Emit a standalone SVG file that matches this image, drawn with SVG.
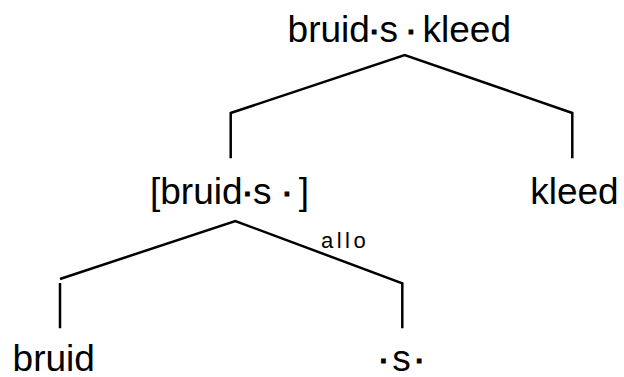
<svg xmlns="http://www.w3.org/2000/svg" width="624" height="377" viewBox="0 0 624 377">
<style>
.t{font-family:"Liberation Sans",Arial,sans-serif;font-size:37px;fill:#000}
.d{font-family:"Liberation Sans",Arial,sans-serif;font-size:37px;fill:#000;stroke:#000;stroke-width:1.2;text-anchor:middle}
.lbl{font-family:"Liberation Sans",Arial,sans-serif;font-size:22px;letter-spacing:3.5px;fill:#000}
.c{fill:none;stroke:#000;stroke-width:2.5;stroke-linecap:butt;stroke-linejoin:miter}
</style>
<rect width="624" height="377" fill="#fff"/>
<g id="connectors">
<path class="c" d="M230.7,158.3 V113 L404.7,55 L572.3,113 V158.3"/>
<path class="c" d="M60,328.3 V283 M60,279 L235.3,221 L402.3,283.3 V328.3"/>
</g>
<g id="n-bruidskleed">
<text class="t" y="42"><tspan x="287.6">bruid</tspan><tspan x="379.6">s</tspan><tspan x="422.5">kleed</tspan></text>
<text class="d" x="374.2" y="42">·</text>
<text class="d" x="410.9" y="42">·</text>
</g>
<g id="n-bruids">
<text class="t" y="204"><tspan x="150">[bruid</tspan><tspan x="253">s</tspan><tspan x="298.7">]</tspan></text>
<text class="d" x="247.5" y="204">·</text>
<text class="d" x="287" y="204">·</text>
</g>
<g id="n-kleed"><text class="t" x="530.2" y="203.5">kleed</text></g>
<g id="n-bruid"><text class="t" x="12.6" y="371">bruid</text></g>
<g id="n-s">
<text class="t" x="392.2" y="371">s</text>
<text class="d" x="383.3" y="371">·</text>
<text class="d" x="419.2" y="371">·</text>
</g>
<g id="l-allo"><text class="lbl" x="321" y="248.3">allo</text></g>
</svg>
